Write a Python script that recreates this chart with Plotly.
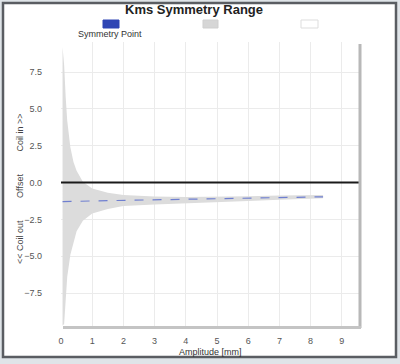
import plotly.graph_objects as go

# ---- data ----
amplitude = [0.05, 0.1, 0.15, 0.2, 0.3, 0.4, 0.5, 0.7, 1.0, 1.5, 2.0, 3.0, 4.0, 5.0, 6.0, 7.0, 8.0, 8.4]
range_upper = [9.2, 8.0, 5.8, 4.2, 2.4, 1.4, 0.8, 0.05, -0.4, -0.7, -0.85, -0.95, -0.98, -0.97, -0.93, -0.88, -0.85, -0.84]
range_lower = [-9.7, -9.6, -8.0, -6.4, -4.9, -4.0, -3.3, -2.6, -2.1, -1.8, -1.6, -1.5, -1.4, -1.33, -1.25, -1.17, -1.10, -1.06]
symmetry_point = [-1.30, -1.30, -1.29, -1.29, -1.28, -1.28, -1.27, -1.26, -1.25, -1.23, -1.21, -1.18, -1.15, -1.11, -1.07, -1.03, -0.99, -0.97]
x_ticks = [0, 1, 2, 3, 4, 5, 6, 7, 8, 9]
y_ticks = [-7.5, -5.0, -2.5, 0.0, 2.5, 5.0, 7.5]

# ---- layout geometry (pixels) ----
W, H = 400, 364
L, R, T, B = 61, 359, 42, 326


def px(x):
    return (x - L) / (R - L)


def py(y):
    return (B - y) / (B - T)


fig = go.Figure()
fig.add_trace(go.Scatter(x=amplitude, y=range_lower, mode="lines", line=dict(width=0, color="#dadada"),
                         showlegend=False, hoverinfo="skip"))
fig.add_trace(go.Scatter(x=amplitude, y=range_upper, mode="lines", line=dict(width=0, color="#dadada"),
                         fill="tonexty", fillcolor="#dcdcdc", name="Range", showlegend=False))
fig.add_trace(go.Scatter(x=amplitude, y=symmetry_point, mode="lines",
                         line=dict(color="#6f7fd0", width=1.2, dash="dash"), name="Symmetry Point",
                         showlegend=False))

font_family = "Liberation Sans, Arial, sans-serif"

shapes = [
    # outer frame
    dict(type="rect", xref="paper", yref="paper", x0=px(3), x1=px(396), y0=py(357), y1=py(3),
         fillcolor="white", line=dict(color="#5a5d62", width=2.5), layer="below"),
    # zero line (offset reference) on top of the band
    dict(type="line", xref="paper", yref="y", x0=0, x1=1, y0=0, y1=0,
         line=dict(color="#1a1a1a", width=2)),
    # plot shadow right / bottom
    dict(type="line", xref="paper", yref="paper", x0=px(360), x1=px(360), y0=py(328), y1=py(44),
         line=dict(color="#b8b8b8", width=3)),
    dict(type="line", xref="paper", yref="paper", x0=px(63), x1=px(361), y0=py(327.5), y1=py(327.5),
         line=dict(color="#c4c4c4", width=3)),
    # legend swatches
    dict(type="rect", xref="paper", yref="paper", x0=px(103), x1=px(119), y0=py(28), y1=py(20),
         fillcolor="#2f45b4", line=dict(color="#2f45b4", width=1)),
    dict(type="rect", xref="paper", yref="paper", x0=px(203), x1=px(218), y0=py(28), y1=py(20),
         fillcolor="#d6d6d6", line=dict(color="#cfcfcf", width=1)),
    dict(type="rect", xref="paper", yref="paper", x0=px(301), x1=px(318), y0=py(28), y1=py(20),
         fillcolor="white", line=dict(color="#dddddd", width=1)),
]

annotations = [
    dict(text="<b>Kms Symmetry Range</b>", xref="paper", yref="paper", x=px(194), y=py(10), showarrow=False,
         font=dict(size=13, color="#222222", family=font_family), xanchor="center", yanchor="middle"),
    dict(text="Symmetry Point", xref="paper", yref="paper", x=px(110), y=py(34), showarrow=False,
         font=dict(size=9, color="#333333", family=font_family), xanchor="center", yanchor="middle"),
    dict(text="<< Coil out         Offset         Coil in >>", xref="paper", yref="paper",
         x=px(20), y=py(189), showarrow=False, textangle=-90,
         font=dict(size=9, color="#444444", family=font_family), xanchor="center", yanchor="middle"),
    dict(text="Amplitude [mm]", xref="paper", yref="paper", x=px(210), y=py(352), showarrow=False,
         font=dict(size=9, color="#333333", family=font_family), xanchor="center", yanchor="middle"),
]

fig.update_layout(
    width=W, height=H,
    margin=dict(l=L, r=W - R, t=T, b=H - B),
    paper_bgcolor="#dfe4e8",
    plot_bgcolor="white",
    showlegend=False,
    shapes=shapes,
    annotations=annotations,
    xaxis=dict(range=[0, (R - L) / 31.2], tickvals=x_ticks, showgrid=True, gridcolor="#ebebeb", gridwidth=1,
               zeroline=False, showline=False, ticks="", ticklabelstandoff=8,
               tickfont=dict(size=9, color="#555555", family=font_family)),
    yaxis=dict(range=[-9.74, 9.54], tickvals=y_ticks, tickformat=".1f", showgrid=True, gridcolor="#ebebeb",
               gridwidth=1, zeroline=False, showline=False,
               ticks="", ticklabelstandoff=18,
               tickfont=dict(size=9, color="#555555", family=font_family)),
)

fig.write_html("out.html")
